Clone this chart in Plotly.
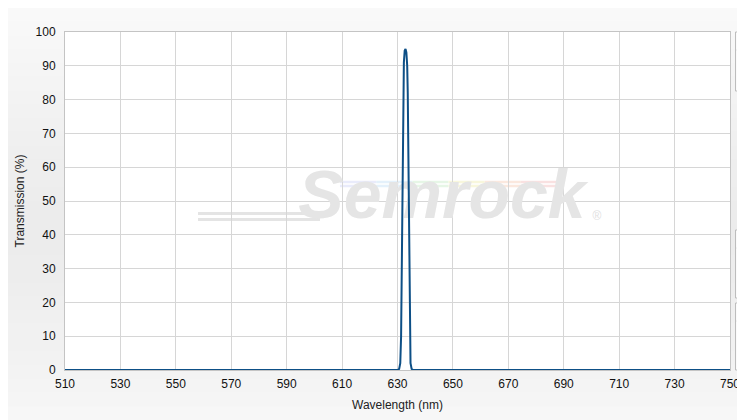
import plotly.graph_objects as go

# ---- data ----
wavelength_nm = [510, 600, 628, 630.0, 630.6, 631.0, 631.3, 631.6, 631.8, 632.0, 632.3, 632.6,
                 632.9, 633.2, 633.5, 633.7, 633.9, 634.1, 634.4, 634.7, 635.1, 635.7, 640, 700, 750]
transmission_pct = [0, 0, 0, 0, 0.3, 2, 10, 40, 65, 82, 91, 94.5,
                    95, 94, 90, 82, 65, 40, 10, 2, 0.3, 0, 0, 0, 0]

x_ticks = [510, 530, 550, 570, 590, 610, 630, 650, 670, 690, 710, 730, 750]
y_ticks = [0, 10, 20, 30, 40, 50, 60, 70, 80, 90, 100]

OFF = 8                      # default page body margin
PAGE_W, PAGE_H = 745, 420
W, H = PAGE_W - OFF, PAGE_H - OFF
L, T = 65 - OFF, 32 - OFF
R = W - (730 - OFF)
B = H - (370 - OFF)
pw, ph = W - L - R, H - T - B

def px2paper_x(px):          # px in page coordinates
    return (px - OFF - L) / pw

def px2paper_y(py):
    return (H - B - (py - OFF)) / ph

shapes = []
# page background gradient (light at top/bottom, grayer in middle)
n = 30
for i in range(n):
    y0 = OFF + i * H / n
    y1 = min(OFF + (i + 1) * H / n + 0.5, PAGE_H)
    t = abs(((y0 + y1) / 2) / PAGE_H - 0.55) / 0.55
    g = int(236 + (251 - 236) * min(t, 1) ** 1.3)
    shapes.append(dict(type="rect", xref="paper", yref="paper", layer="below",
                       x0=px2paper_x(OFF), x1=px2paper_x(PAGE_W),
                       y0=px2paper_y(y1), y1=px2paper_y(y0),
                       fillcolor=f"rgb({g},{g},{g})", line=dict(width=0)))
# white plot area
shapes.append(dict(type="rect", xref="paper", yref="paper", layer="below",
                   x0=0, x1=1, y0=0, y1=1, fillcolor="white", line=dict(width=0)))
# watermark speed lines
for py in (213.5, 219.5):
    shapes.append(dict(type="line", xref="paper", yref="paper", layer="below",
                       x0=px2paper_x(198), x1=px2paper_x(320), y0=px2paper_y(py), y1=px2paper_y(py),
                       line=dict(color="#e4e4e4", width=3)))
rainbow = ["#e9ebfb", "#e4f1fb", "#e6f6e6", "#f8f7dc", "#fbe8de", "#f9e1e1"]
seg = (557 - 340) / len(rainbow)
for k, c in enumerate(rainbow):
    for py in (182, 186):
        shapes.append(dict(type="line", xref="paper", yref="paper", layer="below",
                           x0=px2paper_x(340 + k * seg), x1=px2paper_x(340 + (k + 1) * seg),
                           y0=px2paper_y(py), y1=px2paper_y(py),
                           line=dict(color=c, width=2.5)))
# right-side clipped panels
for (ya, yb) in [(32, 91), (230, 298), (303, 370)]:
    shapes.append(dict(type="rect", xref="paper", yref="paper", layer="above",
                       x0=px2paper_x(735.5), x1=px2paper_x(PAGE_W),
                       y0=px2paper_y(yb), y1=px2paper_y(ya),
                       fillcolor="#fbfbfb", line=dict(color="#bdbdbd", width=1)))
    shapes.append(dict(type="line", xref="paper", yref="paper", layer="above",
                       x0=px2paper_x(736), x1=px2paper_x(PAGE_W),
                       y0=px2paper_y(ya + 18), y1=px2paper_y(ya + 18),
                       line=dict(color="#ececec", width=1)))

def px2data_x(px):
    return 510 + px2paper_x(px) * 240

def px2data_y(py):
    return px2paper_y(py) * 100

fig = go.Figure()
# watermark text (drawn beneath the data line)
fig.add_trace(go.Scatter(
    x=[px2data_x(442)], y=[px2data_y(201)],
    mode="text", text=["Semrock"], hoverinfo="skip", showlegend=False,
    textfont=dict(family="Liberation Sans", size=68, color="#e5e5e5",
                  weight="bold", style="italic"),
    textposition="middle center"))
fig.add_trace(go.Scatter(
    x=[px2data_x(597)], y=[px2data_y(217)],
    mode="text", text=["®"], hoverinfo="skip", showlegend=False,
    textfont=dict(family="Liberation Sans", size=12, color="#e0e0e0"),
    textposition="middle center"))

fig.add_trace(go.Scatter(
    x=wavelength_nm, y=transmission_pct, mode="lines",
    line=dict(color="#0d4f86", width=2), showlegend=False, cliponaxis=False))

axis_font = dict(family="Liberation Sans, Arial, sans-serif", size=12, color="#111111")
fig.update_layout(
    width=W, height=H, autosize=False,
    margin=dict(l=L, r=R, t=T, b=B, autoexpand=False),
    paper_bgcolor="#f1f1f1", plot_bgcolor="white",
    shapes=shapes,
    font=axis_font,
    xaxis=dict(range=[510, 750], tickvals=x_ticks, ticktext=[str(v) for v in x_ticks],
               showgrid=True, gridcolor="#d6d6d6", gridwidth=1, automargin=False,
               showline=True, linecolor="#c4c4c4", linewidth=1, mirror=True,
               zeroline=False, ticks="", ticklabelstandoff=3,
               title=dict(text="Wavelength (nm)", font=dict(size=12, color="#222222"), standoff=10)),
    yaxis=dict(range=[0, 100], tickvals=y_ticks, ticktext=[str(v) for v in y_ticks],
               showgrid=True, gridcolor="#d6d6d6", gridwidth=1, automargin=False,
               showline=True, linecolor="#c4c4c4", linewidth=1, mirror=True,
               zeroline=False, ticks="", ticklabelstandoff=6,
               title=dict(text="Transmission (%)", font=dict(size=12, color="#222222"), standoff=8)),
)

fig.write_html("out.html", config={"displayModeBar": False, "responsive": False})
